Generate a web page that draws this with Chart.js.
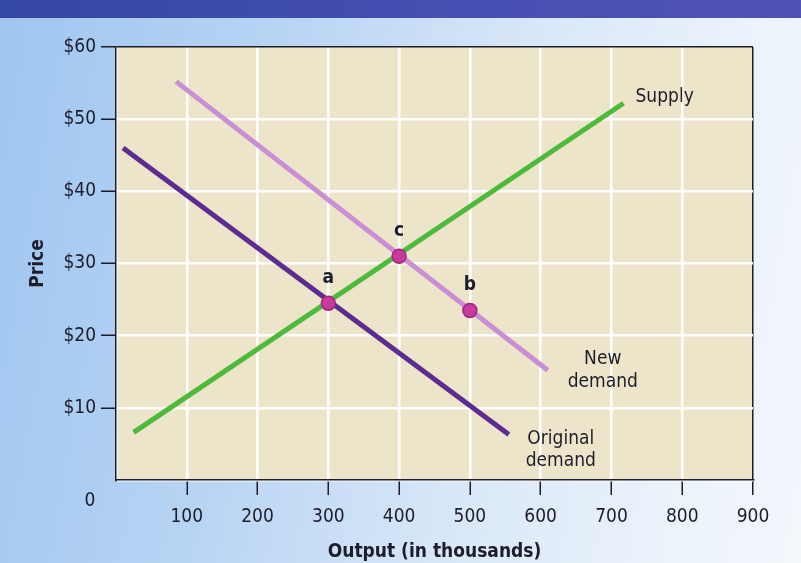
<!DOCTYPE html>
<html>
<head>
<meta charset="utf-8">
<script src="https://cdn.jsdelivr.net/npm/chart.js@4/dist/chart.umd.min.js"></script>
<style>
  html, body { margin: 0; padding: 0; }
  #page {
    position: relative;
    width: 801px;
    height: 563px;
    overflow: hidden;
    background: linear-gradient(100deg, #9fc6f0 0%, #b6d3f3 30%, #d8e7f8 60%, #ecf3fb 85%, #f4f7fc 100%);
  }
  #band {
    position: absolute;
    left: 0; top: 0;
    width: 801px; height: 18px;
    background: linear-gradient(to right, #3447a3, #4650b2 60%, #5052b4);
  }
  #chart { position: absolute; left: 0; top: 0; }
</style>
</head>
<body>
<div id="page">
  <div id="band"></div>
  <canvas id="chart" width="801" height="563"></canvas>
</div>
<script>
// values (output in thousands, price in $)
const supplyQ = [25, 717];
const supplyP = [6.6, 52.2];
const origQ = [10, 555];
const origP = [46, 6.3];
const newQ = [85, 610];
const newP = [55.2, 15.2];
const pointNames = ['a', 'c', 'b'];
const pointQ = [300, 400, 500];
const pointP = [24.5, 31, 23.5];
const xTicks = [0, 100, 200, 300, 400, 500, 600, 700, 800, 900];
const yTicks = [0, 10, 20, 30, 40, 50, 60];

const FONT = "'Liberation Sans Narrow', 'DejaVu Sans Condensed', 'Roboto', sans-serif";
const INK = '#1d1d2b';

const toXY = (qs, ps) => qs.map((q, i) => ({ x: q, y: ps[i] }));

const chartBg = {
  id: 'chartBg',
  beforeDraw(chart) {
    const { ctx, chartArea: a } = chart;
    ctx.save();
    ctx.fillStyle = '#ece5c9';
    ctx.fillRect(a.left, a.top, a.right - a.left, a.bottom - a.top);
    ctx.restore();
  }
};

const labels = {
  id: 'labels',
  afterDatasetsDraw(chart) {
    const { ctx } = chart;
    const x = chart.scales.x, y = chart.scales.y;
    ctx.save();
    ctx.fillStyle = INK;
    ctx.textBaseline = 'middle';

    // point letters
    ctx.font = 'bold 19px ' + FONT;
    ctx.textAlign = 'center';
    pointNames.forEach((n, i) => {
      ctx.fillText(n, x.getPixelForValue(pointQ[i]), y.getPixelForValue(pointP[i]) - 25);
    });

    // curve names
    ctx.font = '19px ' + FONT;
    ctx.textAlign = 'left';
    ctx.fillText('Supply', x.getPixelForValue(supplyQ[1]) + 12, y.getPixelForValue(supplyP[1]) - 6);
    ctx.textAlign = 'center';
    const nx = x.getPixelForValue(newQ[1]) + 55, ny = y.getPixelForValue(newP[1]);
    ctx.fillText('New', nx, ny - 11);
    ctx.fillText('demand', nx, ny + 12);
    const ox = x.getPixelForValue(origQ[1]) + 52, oy = y.getPixelForValue(origP[1]);
    ctx.fillText('Original', ox, oy + 5);
    ctx.fillText('demand', ox, oy + 27);

    // origin
    ctx.fillText('0', x.left - 26, y.bottom + 21);
    ctx.restore();
  }
};

new Chart(document.getElementById('chart'), {
  type: 'scatter',
  data: {
    datasets: [
      {
        label: 'Points',
        data: toXY(pointQ, pointP),
        showLine: false,
        order: 0,
        pointRadius: 7,
        pointBackgroundColor: '#c9399e',
        pointBorderColor: '#9c2a7e',
        pointBorderWidth: 1.5
      },
      {
        label: 'Supply',
        data: toXY(supplyQ, supplyP),
        showLine: true,
        order: 1,
        borderColor: '#4dba3c',
        borderWidth: 5,
        pointRadius: 0
      },
      {
        label: 'Original demand',
        data: toXY(origQ, origP),
        showLine: true,
        order: 1,
        borderColor: '#5c2c92',
        borderWidth: 5,
        pointRadius: 0
      },
      {
        label: 'New demand',
        data: toXY(newQ, newP),
        showLine: true,
        order: 1,
        borderColor: '#c98ed5',
        borderWidth: 5,
        pointRadius: 0
      }
    ]
  },
  options: {
    responsive: false,
    animation: false,
    events: [],
    layout: { padding: { top: 47, right: 48, left: 0, bottom: 0 } },
    plugins: {
      legend: { display: false },
      tooltip: { enabled: false }
    },
    scales: {
      x: {
        type: 'linear',
        min: 0,
        max: 900,
        afterBuildTicks: s => { s.ticks = xTicks.map(v => ({ value: v })); },
        afterFit: s => { s.height = 83; },
        grid: {
          color: c => c.tick && c.tick.value === 900 ? INK : '#ffffff',
          lineWidth: c => c.tick && c.tick.value === 900 ? 1.5 : 2.5,
          tickColor: c => c.tick && c.tick.value === 0 ? 'rgba(0,0,0,0)' : INK,
          tickWidth: 1.5,
          tickLength: 15
        },
        border: { color: INK, width: 1.5 },
        ticks: {
          color: INK,
          padding: 11,
          font: { family: FONT, size: 19 },
          callback: v => v === 0 ? '' : String(v)
        },
        title: {
          display: true,
          text: 'Output (in thousands)',
          color: INK,
          font: { family: FONT, size: 19, weight: 'bold' },
          padding: { top: 5, bottom: 0 }
        }
      },
      y: {
        type: 'linear',
        min: 0,
        max: 60,
        afterBuildTicks: s => { s.ticks = yTicks.map(v => ({ value: v })); },
        afterFit: s => { s.width = 116; },
        grid: {
          color: c => c.tick && c.tick.value === 60 ? INK : '#ffffff',
          lineWidth: c => c.tick && c.tick.value === 60 ? 1.5 : 2.5,
          tickColor: c => c.tick && c.tick.value === 0 ? 'rgba(0,0,0,0)' : INK,
          tickWidth: 1.5,
          tickLength: 15
        },
        border: { color: INK, width: 1.5 },
        ticks: {
          color: INK,
          padding: 5,
          font: { family: FONT, size: 19 },
          callback: v => v === 0 ? '' : '$' + v
        },
        title: {
          display: true,
          text: 'Price',
          color: INK,
          font: { family: FONT, size: 19, weight: 'bold' },
          padding: { top: 27, bottom: 0 }
        }
      }
    }
  },
  plugins: [chartBg, labels]
});
</script>
</body>
</html>
